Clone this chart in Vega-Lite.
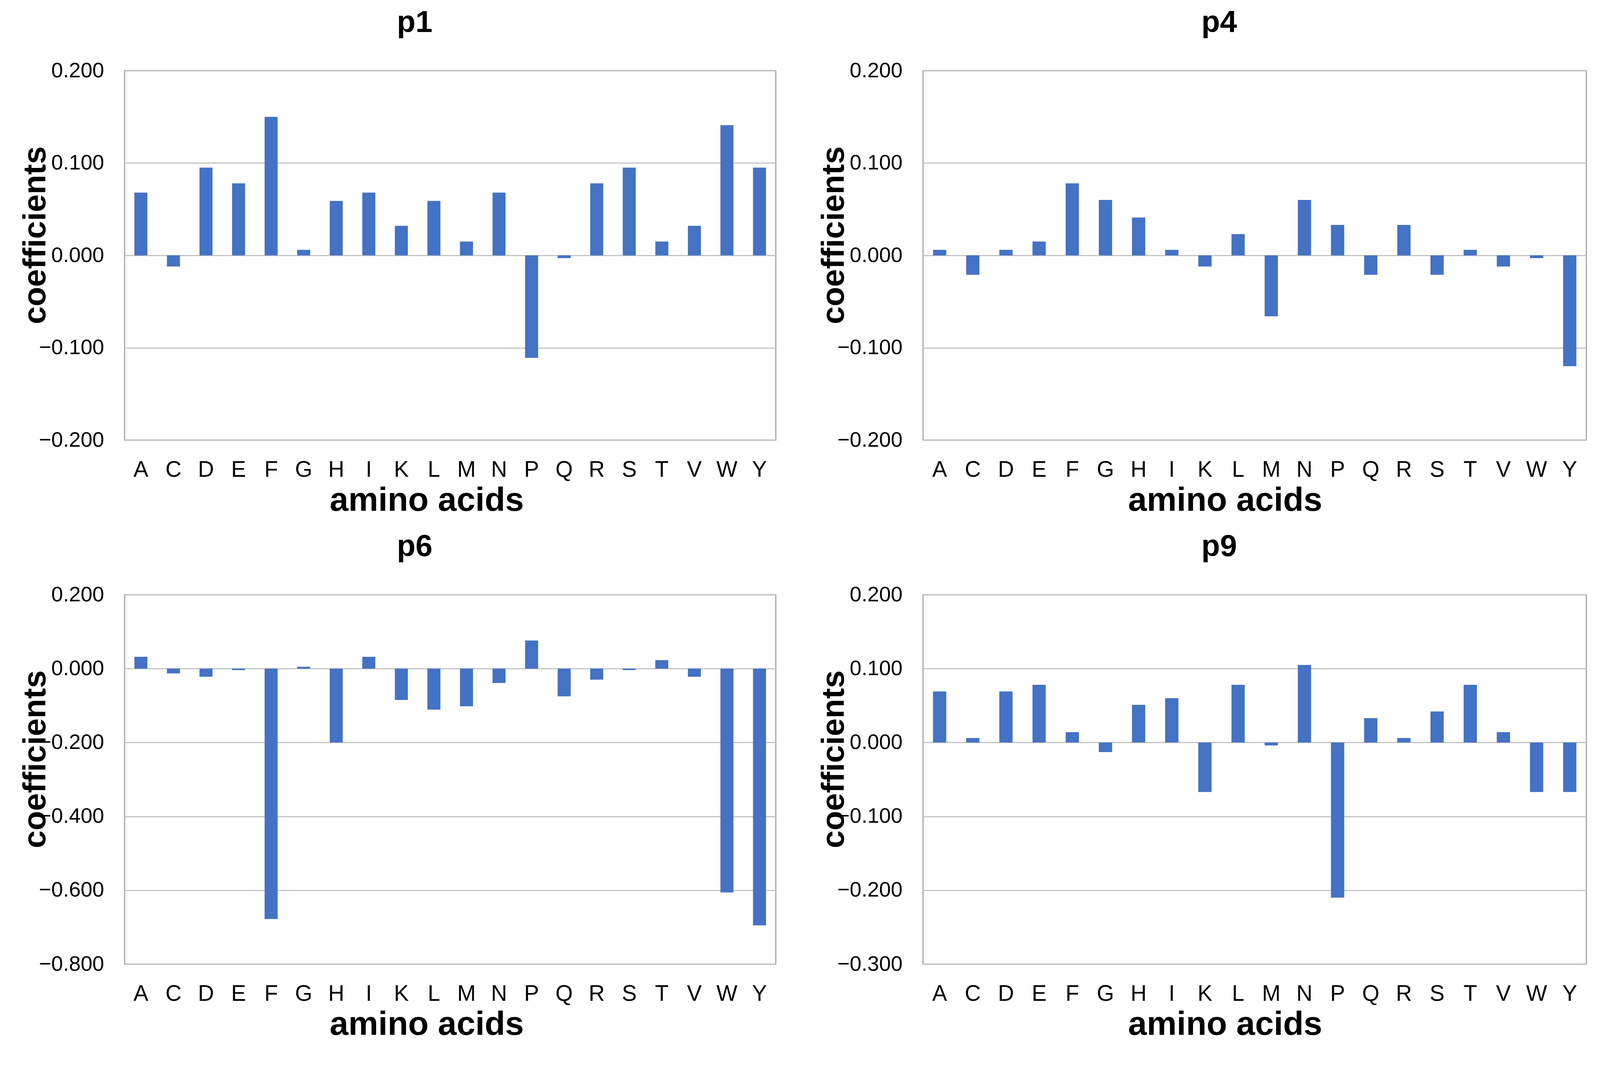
{
  "$schema": "https://vega.github.io/schema/vega-lite/v6.json",
  "background": "white",
  "padding": {"left": 47, "top": 18, "right": 10, "bottom": 10},
  "columns": 2,
  "spacing": {"row": 34, "column": 103},
  "datasets": {
    "coefs": [
      {"panel": "p1", "aa": "A", "coef": 0.068}, {"panel": "p1", "aa": "C", "coef": -0.012}, {"panel": "p1", "aa": "D", "coef": 0.095}, {"panel": "p1", "aa": "E", "coef": 0.078}, {"panel": "p1", "aa": "F", "coef": 0.150}, {"panel": "p1", "aa": "G", "coef": 0.006}, {"panel": "p1", "aa": "H", "coef": 0.059}, {"panel": "p1", "aa": "I", "coef": 0.068}, {"panel": "p1", "aa": "K", "coef": 0.032}, {"panel": "p1", "aa": "L", "coef": 0.059}, {"panel": "p1", "aa": "M", "coef": 0.015}, {"panel": "p1", "aa": "N", "coef": 0.068}, {"panel": "p1", "aa": "P", "coef": -0.111}, {"panel": "p1", "aa": "Q", "coef": -0.003}, {"panel": "p1", "aa": "R", "coef": 0.078}, {"panel": "p1", "aa": "S", "coef": 0.095}, {"panel": "p1", "aa": "T", "coef": 0.015}, {"panel": "p1", "aa": "V", "coef": 0.032}, {"panel": "p1", "aa": "W", "coef": 0.141}, {"panel": "p1", "aa": "Y", "coef": 0.095},
      {"panel": "p4", "aa": "A", "coef": 0.006}, {"panel": "p4", "aa": "C", "coef": -0.021}, {"panel": "p4", "aa": "D", "coef": 0.006}, {"panel": "p4", "aa": "E", "coef": 0.015}, {"panel": "p4", "aa": "F", "coef": 0.078}, {"panel": "p4", "aa": "G", "coef": 0.060}, {"panel": "p4", "aa": "H", "coef": 0.041}, {"panel": "p4", "aa": "I", "coef": 0.006}, {"panel": "p4", "aa": "K", "coef": -0.012}, {"panel": "p4", "aa": "L", "coef": 0.023}, {"panel": "p4", "aa": "M", "coef": -0.066}, {"panel": "p4", "aa": "N", "coef": 0.060}, {"panel": "p4", "aa": "P", "coef": 0.033}, {"panel": "p4", "aa": "Q", "coef": -0.021}, {"panel": "p4", "aa": "R", "coef": 0.033}, {"panel": "p4", "aa": "S", "coef": -0.021}, {"panel": "p4", "aa": "T", "coef": 0.006}, {"panel": "p4", "aa": "V", "coef": -0.012}, {"panel": "p4", "aa": "W", "coef": -0.003}, {"panel": "p4", "aa": "Y", "coef": -0.120},
      {"panel": "p6", "aa": "A", "coef": 0.032}, {"panel": "p6", "aa": "C", "coef": -0.013}, {"panel": "p6", "aa": "D", "coef": -0.022}, {"panel": "p6", "aa": "E", "coef": -0.004}, {"panel": "p6", "aa": "F", "coef": -0.678}, {"panel": "p6", "aa": "G", "coef": 0.005}, {"panel": "p6", "aa": "H", "coef": -0.200}, {"panel": "p6", "aa": "I", "coef": 0.032}, {"panel": "p6", "aa": "K", "coef": -0.085}, {"panel": "p6", "aa": "L", "coef": -0.111}, {"panel": "p6", "aa": "M", "coef": -0.102}, {"panel": "p6", "aa": "N", "coef": -0.039}, {"panel": "p6", "aa": "P", "coef": 0.076}, {"panel": "p6", "aa": "Q", "coef": -0.075}, {"panel": "p6", "aa": "R", "coef": -0.030}, {"panel": "p6", "aa": "S", "coef": -0.004}, {"panel": "p6", "aa": "T", "coef": 0.023}, {"panel": "p6", "aa": "V", "coef": -0.022}, {"panel": "p6", "aa": "W", "coef": -0.606}, {"panel": "p6", "aa": "Y", "coef": -0.695},
      {"panel": "p9", "aa": "A", "coef": 0.069}, {"panel": "p9", "aa": "C", "coef": 0.006}, {"panel": "p9", "aa": "D", "coef": 0.069}, {"panel": "p9", "aa": "E", "coef": 0.078}, {"panel": "p9", "aa": "F", "coef": 0.014}, {"panel": "p9", "aa": "G", "coef": -0.013}, {"panel": "p9", "aa": "H", "coef": 0.051}, {"panel": "p9", "aa": "I", "coef": 0.060}, {"panel": "p9", "aa": "K", "coef": -0.067}, {"panel": "p9", "aa": "L", "coef": 0.078}, {"panel": "p9", "aa": "M", "coef": -0.004}, {"panel": "p9", "aa": "N", "coef": 0.105}, {"panel": "p9", "aa": "P", "coef": -0.210}, {"panel": "p9", "aa": "Q", "coef": 0.033}, {"panel": "p9", "aa": "R", "coef": 0.006}, {"panel": "p9", "aa": "S", "coef": 0.042}, {"panel": "p9", "aa": "T", "coef": 0.078}, {"panel": "p9", "aa": "V", "coef": 0.014}, {"panel": "p9", "aa": "W", "coef": -0.067}, {"panel": "p9", "aa": "Y", "coef": -0.067}
    ]
  },
  "concat": [
    {
      "title": {"text": "p1"},
      "width": 1667, "height": 946,
      "data": {"name": "coefs"},
      "transform": [{"filter": "datum.panel === 'p1'"}],
      "mark": {"type": "bar", "color": "#4472C4"},
      "encoding": {
        "x": {"field": "aa", "type": "nominal", "sort": null, "scale": {"paddingInner": 0.6, "paddingOuter": 0.3}, "axis": {"title": "amino acids"}},
        "y": {"field": "coef", "type": "quantitative", "scale": {"domain": [-0.2, 0.2], "nice": false}, "axis": {"title": "coefficients", "values": [-0.2, -0.1, 0, 0.1, 0.2], "format": ".3f"}}
      }
    },
    {
      "title": {"text": "p4"},
      "width": 1698, "height": 946,
      "data": {"name": "coefs"},
      "transform": [{"filter": "datum.panel === 'p4'"}],
      "mark": {"type": "bar", "color": "#4472C4"},
      "encoding": {
        "x": {"field": "aa", "type": "nominal", "sort": null, "scale": {"paddingInner": 0.6, "paddingOuter": 0.3}, "axis": {"title": "amino acids"}},
        "y": {"field": "coef", "type": "quantitative", "scale": {"domain": [-0.2, 0.2], "nice": false}, "axis": {"title": "coefficients", "values": [-0.2, -0.1, 0, 0.1, 0.2], "format": ".3f"}}
      }
    },
    {
      "title": {"text": "p6"},
      "width": 1667, "height": 946,
      "data": {"name": "coefs"},
      "transform": [{"filter": "datum.panel === 'p6'"}],
      "mark": {"type": "bar", "color": "#4472C4"},
      "encoding": {
        "x": {"field": "aa", "type": "nominal", "sort": null, "scale": {"paddingInner": 0.6, "paddingOuter": 0.3}, "axis": {"title": "amino acids"}},
        "y": {"field": "coef", "type": "quantitative", "scale": {"domain": [-0.8, 0.2], "nice": false}, "axis": {"title": "coefficients", "values": [-0.8, -0.6, -0.4, -0.2, 0, 0.2], "format": ".3f"}}
      }
    },
    {
      "title": {"text": "p9"},
      "width": 1698, "height": 946,
      "data": {"name": "coefs"},
      "transform": [{"filter": "datum.panel === 'p9'"}],
      "mark": {"type": "bar", "color": "#4472C4"},
      "encoding": {
        "x": {"field": "aa", "type": "nominal", "sort": null, "scale": {"paddingInner": 0.6, "paddingOuter": 0.3}, "axis": {"title": "amino acids"}},
        "y": {"field": "coef", "type": "quantitative", "scale": {"domain": [-0.3, 0.2], "nice": false}, "axis": {"title": "coefficients", "values": [-0.3, -0.2, -0.1, 0, 0.1, 0.2], "format": ".3f"}}
      }
    }
  ],
  "config": {
    "view": {"stroke": "#A6A6A6", "strokeWidth": 3},
    "title": {"font": "Liberation Sans", "fontWeight": "bold", "fontSize": 78, "color": "#000000", "anchor": "middle", "dx": -91, "baseline": "alphabetic", "offset": 56},
    "axis": {"labelFont": "Liberation Sans", "labelColor": "#000000", "ticks": false, "domain": false, "titleColor": "#000000", "titleFontWeight": "bold"},
    "axisX": {"grid": false, "labelFontSize": 57, "labelAngle": 0, "labelPadding": 48, "titleFont": "Liberation Sans", "titleFontSize": 86, "titleBaseline": "alphabetic", "titleX": 773, "titleY": 180},
    "axisY": {"grid": true, "gridColor": "#C4C4C4", "gridWidth": 3, "labelFontSize": 54, "labelPadding": 53, "titleFont": "Liberation Sans", "titleFontSize": 82, "titleBaseline": "alphabetic", "titleX": -204, "titleY": 421}
  }
}
